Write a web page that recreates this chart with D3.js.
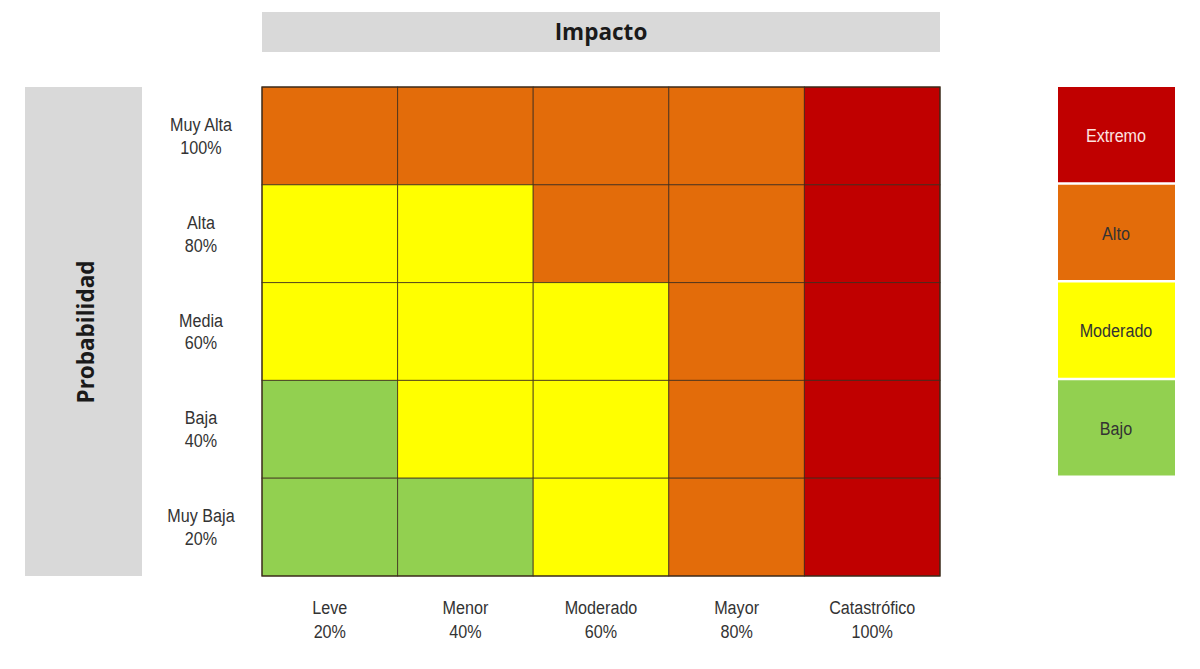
<!doctype html>
<html lang="es">
<head>
<meta charset="utf-8" />
<title>Matriz de riesgo</title>
<script src="https://cdn.jsdelivr.net/npm/d3@7"></script>
<style>
  body { margin: 0; background: #fff; }
  .lbl { font-family: "Liberation Sans", Arial, sans-serif; font-size: 19px; fill: #333; }
  .head { font-family: "Open Sans", "Noto Sans", sans-serif; font-weight: bold; font-size: 22.5px; fill: #1a1a1a; }
</style>
</head>
<body>
<script>
// datos
var impactos = ["Leve", "Menor", "Moderado", "Mayor", "Catastrófico"];
var impactoPct = ["20%", "40%", "60%", "80%", "100%"];
var probabilidades = ["Muy Alta", "Alta", "Media", "Baja", "Muy Baja"];
var probabilidadPct = ["100%", "80%", "60%", "40%", "20%"];
var niveles = ["Extremo", "Alto", "Moderado", "Bajo"];
var nivelColor = ["#c00000", "#e36c0a", "#ffff00", "#92d050"];
// nivel de riesgo por fila (probabilidad) y columna (impacto)
var matriz = [
  ["Alto", "Alto", "Alto", "Alto", "Extremo"],
  ["Moderado", "Moderado", "Alto", "Alto", "Extremo"],
  ["Moderado", "Moderado", "Moderado", "Alto", "Extremo"],
  ["Bajo", "Moderado", "Moderado", "Alto", "Extremo"],
  ["Bajo", "Bajo", "Moderado", "Alto", "Extremo"]
];

var w = 1200, h = 669;
var narrow = 0.85; // Arial Narrow no existe: se estrecha Liberation Sans
var svg = d3.select("body").append("svg").attr("width", w).attr("height", h);

var x = d3.scaleBand().domain(impactos).range([262, 940]);
var y = d3.scaleBand().domain(probabilidades).range([87, 576]);
var color = d3.scaleOrdinal().domain(niveles).range(nivelColor);

// cabeceras grises
svg.append("rect").attr("x", 262).attr("y", 12).attr("width", 678).attr("height", 40).attr("fill", "#d9d9d9");
svg.append("text").attr("class", "head").attr("x", 601).attr("y", 40).attr("text-anchor", "middle").text("Impacto");

svg.append("rect").attr("x", 25).attr("y", 87).attr("width", 117).attr("height", 489).attr("fill", "#d9d9d9");
svg.append("text").attr("class", "head")
  .attr("transform", "translate(94,332) rotate(-90)")
  .attr("text-anchor", "middle").text("Probabilidad");

// celdas
var celdas = [];
matriz.forEach(function(fila, i) {
  fila.forEach(function(v, j) {
    celdas.push({ p: probabilidades[i], imp: impactos[j], nivel: v });
  });
});

svg.selectAll("rect.celda")
  .data(celdas)
  .enter()
  .append("rect")
  .attr("class", "celda")
  .attr("x", function(d) { return x(d.imp); })
  .attr("y", function(d) { return y(d.p); })
  .attr("width", x.bandwidth())
  .attr("height", y.bandwidth())
  .attr("fill", function(d) { return color(d.nivel); })
  .attr("stroke", "#3b2a1a")
  .attr("stroke-opacity", 0.75)
  .attr("stroke-width", 1);

svg.append("rect").attr("x", 262).attr("y", 87).attr("width", 678).attr("height", 489)
  .attr("fill", "none").attr("stroke", "#3b2a1a").attr("stroke-width", 1.2);

// etiqueta de dos lineas, estrechada en horizontal
function dosLineas(sel, cx, cy, l1, l2, dy1, dy2) {
  var t = sel.append("text")
    .attr("class", "lbl")
    .attr("text-anchor", "middle")
    .attr("transform", function(d, i) { return "translate(" + cx(d, i) + "," + cy(d, i) + ") scale(" + narrow + ",1)"; });
  t.append("tspan").attr("x", 0).attr("y", dy1).text(l1);
  t.append("tspan").attr("x", 0).attr("y", dy2).text(l2);
  return t;
}

// etiquetas de probabilidad
dosLineas(
  svg.selectAll("g.fila").data(probabilidades).enter().append("g").attr("class", "fila"),
  function() { return 201; },
  function(d) { return y(d) + y.bandwidth() / 2; },
  function(d) { return d; },
  function(d, i) { return probabilidadPct[probabilidades.indexOf(d)]; },
  -5, 18
);

// etiquetas de impacto
dosLineas(
  svg.selectAll("g.col").data(impactos).enter().append("g").attr("class", "col"),
  function(d) { return x(d) + x.bandwidth() / 2; },
  function() { return 614; },
  function(d) { return d; },
  function(d) { return impactoPct[impactos.indexOf(d)]; },
  0, 24
);

// leyenda
var ly = d3.scaleBand().domain(niveles).range([87, 478]);
svg.selectAll("rect.ley")
  .data(niveles)
  .enter()
  .append("rect")
  .attr("class", "ley")
  .attr("x", 1058)
  .attr("y", function(d) { return ly(d); })
  .attr("width", 117)
  .attr("height", ly.bandwidth() - 2.5)
  .attr("fill", function(d) { return color(d); });

svg.selectAll("text.ley")
  .data(niveles)
  .enter()
  .append("text")
  .attr("class", "lbl ley")
  .attr("transform", function(d) { return "translate(1116," + (ly(d) + ly.bandwidth() / 2 + 6) + ") scale(" + narrow + ",1)"; })
  .attr("text-anchor", "middle")
  .style("fill", function(d) { return d == "Extremo" ? "#fde4e0" : "#333"; })
  .text(function(d) { return d; });
</script>
</body>
</html>
